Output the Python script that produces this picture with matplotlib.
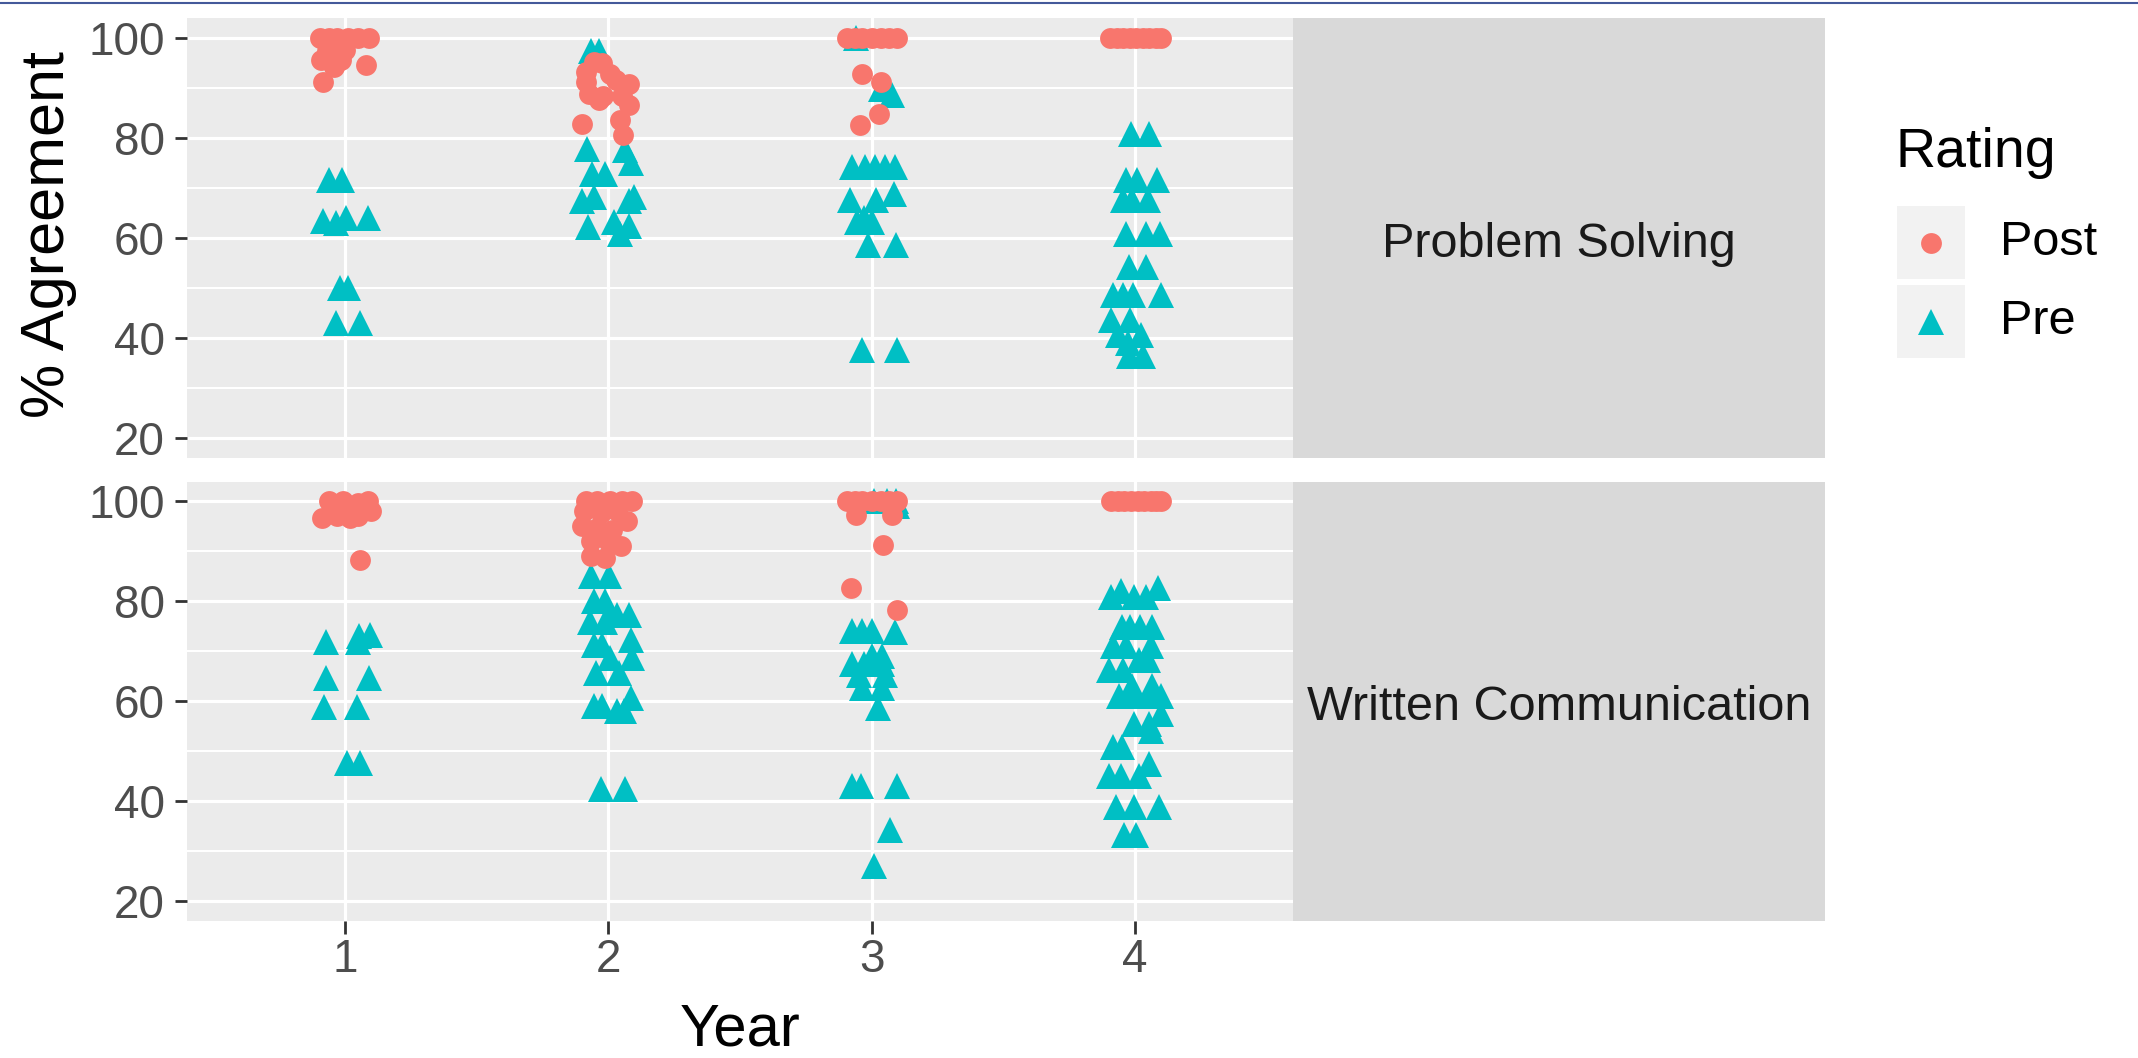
import matplotlib.pyplot as plt
from matplotlib.lines import Line2D
from matplotlib.patches import Rectangle

years = [1, 2, 3, 4]
skills = ['Problem Solving', 'Written Communication']
ratings = ['Post', 'Pre']
colors = {'Post': '#F8766D', 'Pre': '#00BFC4'}
markers = {'Post': 'o', 'Pre': '^'}
y_ticks = [20, 40, 60, 80, 100]

# % agreement per year (with the horizontal jitter seen)
ps_post = {1: [100, 100, 100, 100, 100, 100, 95.6, 95.6, 97.6, 94.3, 97.5, 94.6, 91.3],
           2: [95.3, 95, 93.3, 91.3, 88.9, 87.6, 91.6, 90.9, 86.7, 83.6, 80.6, 82.9, 92.9, 88.5, 88.5],
           3: [100, 100, 100, 100, 100, 100, 100, 92.9, 91.3, 84.8, 82.6],
           4: [100, 100, 100, 100, 100, 100, 100, 100, 100]}
ps_post_jit = {1: [-0.095, -0.06, -0.03, 0.01, 0.05, 0.09, -0.09, -0.015, 0.0, -0.04, -0.07, 0.08, -0.085],
               2: [-0.055, -0.023, -0.086, -0.086, -0.073, -0.036, 0.028, 0.078, 0.078, 0.044, 0.056, -0.099, 0.008, -0.02, 0.05],
               3: [-0.095, -0.065, -0.035, 0.0, 0.035, 0.065, 0.095, -0.035, 0.037, 0.028, -0.046],
               4: [-0.095, -0.07, -0.045, -0.02, 0.005, 0.03, 0.055, 0.08, 0.098]}

ps_pre = {1: [71.7, 71.7, 63.5, 63, 64, 64, 50.1, 50.1, 43.1, 43.1],
          2: [97.5, 97.5, 77.9, 77.6, 75.1, 72.8, 72.8, 67.5, 68.2, 68.3, 67.5, 62.3, 63.3, 60.9, 62.4],
          3: [100, 89.8, 88.6, 74.3, 74.3, 74.3, 74.3, 74.3, 67.6, 67.6, 68.9, 63.3, 63.3, 64,
              58.7, 58.7, 37.7, 37.7],
          4: [80.8, 80.8, 71.7, 71.7, 71.7, 67.6, 67.6, 67.6, 60.9, 60.9, 60.9, 54.3, 54.3,
              48.6, 48.6, 48.6, 48.6, 43.6, 43.6, 40.6, 40.6, 39, 36.4, 36.4]}
ps_pre_jit = {1: [-0.06, -0.013, -0.085, -0.034, 0.004, 0.086, -0.02, 0.01, -0.035, 0.057],
              2: [-0.067, -0.036, -0.082, 0.065, 0.085, -0.061, -0.014, -0.099, -0.055, 0.097, 0.08, -0.077, 0.021, 0.045, 0.078],
              3: [-0.061, 0.034, 0.079, -0.074, -0.024, 0.014, 0.052, 0.089, -0.081, 0.016, 0.085, -0.056, 0.0, -0.03,
                  -0.014, 0.091, -0.035, 0.095],
              4: [-0.015, 0.054, -0.034, 0.008, 0.084, -0.045, -0.011, 0.049, -0.034, 0.043, 0.094, -0.021, 0.043,
                  -0.085, -0.046, -0.008, 0.099, -0.091, -0.02, -0.066, 0.023, -0.027, -0.021, 0.03]}

wc_post = {1: [100, 100, 100, 99.6, 96.7, 97, 96.7, 98, 97, 88.2],
           2: [100, 100, 100, 100, 100, 98, 97.7, 98, 96, 95, 94.7, 94.3, 92, 92, 91, 89, 88.7],
           3: [100, 100, 100, 100, 100, 100, 100, 97.3, 97.3, 91.3, 82.7, 78.3],
           4: [100, 100, 100, 100, 100, 100, 100, 100, 100]}
wc_post_jit = {1: [-0.06, -0.009, 0.086, 0.048, -0.088, -0.032, 0.019, 0.099, 0.048, 0.058],
               2: [-0.086, -0.042, 0.008, 0.053, 0.091, -0.092, -0.029, 0.034, 0.071, -0.099, -0.042, 0.014,
                   -0.064, 0.0, 0.047, -0.064, -0.014],
               3: [-0.095, -0.065, -0.035, 0.0, 0.035, 0.065, 0.095, -0.061, 0.076, 0.044, -0.08, 0.095],
               4: [-0.092, -0.066, -0.04, -0.015, 0.01, 0.035, 0.06, 0.08, 0.099]}

wc_pre = {1: [71.8, 73, 73.2, 71.8, 64.7, 64.7, 58.8, 58.8, 47.7, 47.7],
          2: [85.1, 85.1, 80, 80, 77.2, 77.2, 77.2, 75.8, 75.8, 72.2, 71.3, 71.3, 68.7, 68.7, 65.7, 65.7,
              60.7, 59.1, 59.1, 58, 58, 42.5, 42.5],
          3: [100, 100, 100, 99, 74, 74, 74, 73.8, 67.5, 67.5, 67.5, 69, 69, 65.3, 65.3, 62.7, 62.7, 58.7,
              43.1, 43.1, 43.1, 34.2, 27.1],
          4: [82, 82.7, 80.8, 80.8, 80.8, 74.9, 74.9, 74.9, 74.9, 71, 71, 71, 68.2, 68.2, 66.3, 66.3, 63, 63,
              61, 61, 61, 61, 57.5, 55.5, 55.5, 54.1, 50.9, 50.9, 47.5, 45, 45, 45, 38.9, 38.9, 38.9, 33.3, 33.3]}
wc_pre_jit = {1: [-0.072, 0.054, 0.096, 0.048, -0.072, 0.092, -0.081, 0.046, 0.008, 0.058],
              2: [-0.067, 0.002, -0.055, -0.011, 0.033, 0.077, 0.008, -0.068, -0.011, 0.085, -0.055, -0.024,
                  0.008, 0.091, -0.048, 0.04, 0.085, -0.055, -0.023, 0.033, 0.059, -0.029, 0.065],
              3: [0.009, 0.06, 0.091, 0.098, -0.074, -0.036, 0.0, 0.089, -0.074, -0.03, 0.04, 0.003, 0.04,
                  -0.049, 0.049, -0.036, 0.04, 0.023, -0.074, -0.041, 0.095, 0.069, 0.007],
              4: [-0.053, 0.086, -0.003, 0.042, -0.091, -0.05, -0.018, 0.02, 0.066, -0.084, -0.034, 0.061,
                  0.017, 0.048, -0.097, -0.047, 0.066, -0.011, -0.062, -0.011, 0.048, 0.099, 0.099, -0.003,
                  0.053, 0.06, -0.084, -0.05, 0.053, -0.097, -0.053, 0.017, -0.072, -0.003, 0.092, -0.041, 0.003]}

data = {'Problem Solving': {'Post': (ps_post, ps_post_jit), 'Pre': (ps_pre, ps_pre_jit)},
        'Written Communication': {'Post': (wc_post, wc_post_jit), 'Pre': (wc_pre, wc_pre_jit)}}

plt.rcParams['font.family'] = ['Liberation Sans', 'DejaVu Sans']
W, H = 2138, 1058
fig = plt.figure(figsize=(W / 100, H / 100), dpi=100)


def box(x0, y0, x1, y1):
    # pixel box (from top-left) -> figure fraction rect
    return [x0 / W, 1 - y1 / H, (x1 - x0) / W, (y1 - y0) / H]


panel_rows = [(18, 458), (481.5, 921)]
for i, skill in enumerate(skills):
    y0, y1 = panel_rows[i]
    ax = fig.add_axes(box(187, y0, 1293, y1))
    ax.set_facecolor('#EBEBEB')
    for s in ax.spines.values():
        s.set_visible(False)
    ax.set_xlim(0.4, 4.6)
    ax.set_ylim(16, 104)
    ax.set_xticks(years)
    ax.set_yticks(y_ticks)
    ax.set_yticks([30, 50, 70, 90], minor=True)
    ax.grid(which='major', color='white', lw=2.3)
    ax.grid(which='minor', axis='y', color='white', lw=1.5)
    ax.set_axisbelow(True)
    ax.tick_params(which='major', length=9, width=2, color='#333333',
                   labelsize=33, labelcolor='#4D4D4D')
    ax.tick_params(axis='y', pad=7)
    ax.tick_params(axis='x', pad=3)
    ax.tick_params(which='minor', length=0)
    if i == 0:
        ax.tick_params(axis='x', length=0, labelbottom=False)

    for rating in ['Pre', 'Post']:
        vals, jit = data[skill][rating]
        xs, ys = [], []
        for yr in years:
            xs += [yr + j for j in jit[yr]]
            ys += vals[yr]
        ms = 15 if rating == 'Post' else 19
        ax.plot(xs, ys, linestyle='none', marker=markers[rating], ms=ms, mew=0,
                color=colors[rating], zorder=3 if rating == 'Pre' else 4)

    strip = fig.add_axes(box(1293, y0, 1825, y1))
    strip.set_facecolor('#D9D9D9')
    for s in strip.spines.values():
        s.set_visible(False)
    strip.set_xticks([])
    strip.set_yticks([])
    strip.text(0.5, 0.485, skill, ha='center', va='center', fontsize=35,
               color='#1A1A1A', transform=strip.transAxes)

# axis titles
fig.text(49 / W, 1 - 234 / H, '% Agreement', rotation=90, ha='center', va='center',
         fontsize=44, color='black')
fig.text(740 / W, 1 - 1045 / H, 'Year', ha='center', va='baseline', fontsize=43, color='black')

# legend
fig.text(1896 / W, 1 - 167 / H, 'Rating', ha='left', va='baseline', fontsize=40, color='black')
key_rows = [(206, 279), (285, 358)]
for rating, (k0, k1) in zip(ratings, key_rows):
    fig.add_artist(Rectangle((1897 / W, 1 - k1 / H), 68 / W, (k1 - k0) / H,
                             transform=fig.transFigure, facecolor='#F2F2F2', edgecolor='none'))
    yc = 1 - (k0 + k1) / 2 / H
    ms = 15 if rating == 'Post' else 19
    fig.add_artist(Line2D([1931 / W], [yc], marker=markers[rating], ms=ms, mew=0,
                          color=colors[rating], transform=fig.transFigure))
    fig.text(2000 / W, yc, rating, ha='left', va='center', fontsize=35, color='black')

# thin rule along the top edge
fig.add_artist(Line2D([0, 1], [1 - 3 / H, 1 - 3 / H], color='#44599A', lw=1.5,
                      transform=fig.transFigure))

fig.savefig('out.png', dpi=100)
